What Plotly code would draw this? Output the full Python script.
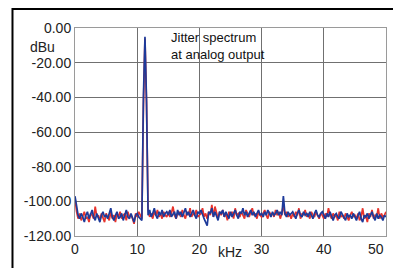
import plotly.graph_objects as go

# Frequency bins (kHz), 0.25 kHz spacing
freq_khz = [i * 0.25 for i in range(201)]

blue_dbu = [
    -97, -104, -108, -110, -107, -109, -112, -108, -106, -110, -108, -105, -109, -111, -107, -109, -112, -108, -106, -109,
    -108, -110, -107, -104, -109, -111, -108, -106, -110, -109, -107, -111, -108, -105, -109, -110, -107, -109, -112, -108,
    -107, -109, -110, -111, -40, -5, -42, -108, -105, -109, -107, -104, -108, -110, -106, -108, -105, -109, -107, -106,
    -108, -105, -109, -107, -106, -110, -105, -108, -106, -109, -107, -104, -108, -106, -109, -107, -105, -108, -110, -106,
    -107, -105, -108, -110, -112, -114, -106, -107, -104, -109, -106, -108, -111, -106, -107, -105, -109, -106, -108, -110,
    -106, -109, -107, -105, -108, -110, -106, -107, -104, -108, -106, -109, -107, -105, -108, -106, -109, -107, -105, -108,
    -107, -109, -106, -108, -105, -107, -109, -106, -108, -107, -105, -108, -106, -108, -97, -107, -109, -106, -108, -107,
    -106, -108, -110, -107, -105, -108, -109, -106, -108, -107, -109, -106, -108, -110, -107, -105, -108, -109, -107, -106,
    -108, -110, -107, -109, -106, -108, -111, -108, -107, -109, -110, -106, -108, -109, -111, -107, -109, -108, -110, -107,
    -109, -111, -108, -106, -110, -112, -108, -109, -107, -110, -108, -106, -109, -111, -107, -110, -108, -109, -111, -108,
    -109,
]

red_dbu = [
    -98, -106, -110, -107, -111, -108, -106, -110, -109, -112, -107, -108, -110, -103, -109, -108, -111, -107, -110, -112,
    -107, -109, -111, -106, -110, -108, -112, -107, -109, -106, -110, -108, -107, -111, -106, -109, -108, -110, -113, -107,
    -109, -106, -108, -110, -45, -6, -44, -105, -109, -107, -110, -106, -108, -105, -109, -107, -110, -106, -108, -109,
    -106, -109, -107, -103, -108, -110, -107, -106, -109, -105, -108, -110, -106, -108, -104, -109, -107, -108, -105, -109,
    -108, -107, -104, -109, -107, -110, -106, -108, -102, -109, -103, -107, -110, -106, -108, -105, -109, -107, -111, -106,
    -108, -106, -110, -104, -108, -107, -109, -106, -108, -110, -105, -107, -109, -106, -104, -108, -107, -110, -106, -108,
    -109, -107, -105, -108, -110, -106, -108, -107, -109, -105, -108, -106, -110, -107, -102, -108, -106, -109, -107, -110,
    -107, -109, -106, -108, -104, -110, -107, -108, -105, -109, -107, -110, -106, -108, -109, -106, -108, -110, -107, -108,
    -110, -107, -109, -104, -108, -110, -107, -109, -108, -111, -106, -109, -108, -110, -107, -109, -111, -108, -106, -109,
    -108, -110, -107, -111, -109, -104, -110, -108, -112, -107, -109, -105, -110, -108, -109, -104, -110, -107, -109, -108,
    -106,
]

x_ticks = [0, 10, 20, 30, 40]
x_tick_labels = ["0", "10", "20", "30", "40"]
x_last_tick = 50
y_ticks = [0, -20, -40, -60, -80, -100, -120]
y_tick_labels = ["0.00", "-20.00", "-40.00", "-60.00", "-80.00", "-100.00", "-120.00"]

fig = go.Figure()
fig.add_trace(go.Scatter(x=freq_khz, y=red_dbu, mode="lines",
                         line=dict(color="#e8342c", width=1.7), showlegend=False))
fig.add_trace(go.Scatter(x=freq_khz, y=blue_dbu, mode="lines",
                         line=dict(color="#1d3a9a", width=1.7), showlegend=False))

FAM = "Liberation Sans, Arial, sans-serif"
tickfont = dict(family=FAM, size=14, color="#222222")
font = dict(family=FAM, size=13, color="#222222")

fig.update_layout(
    width=393, height=268,
    margin=dict(l=75, r=7, t=28, b=32),
    paper_bgcolor="white", plot_bgcolor="white",
    font=font,
    xaxis=dict(range=[0, 50], tickvals=x_ticks, ticktext=x_tick_labels,
               showgrid=True, gridcolor="#707070", gridwidth=1,
               showline=True, linecolor="#9a9a9a", linewidth=1, mirror=True,
               zeroline=False, ticks="", tickfont=tickfont, automargin=False),
    yaxis=dict(range=[-120, 0], tickvals=y_ticks, ticktext=y_tick_labels,
               showgrid=True, gridcolor="#707070", gridwidth=1,
               showline=True, linecolor="#9a9a9a", linewidth=1, mirror=True,
               zeroline=False, ticks="", tickfont=tickfont, automargin=False),
    shapes=[dict(type="rect", xref="paper", yref="paper",
                 x0=-0.201, x1=1.3, y0=-0.5, y1=1.0915,
                 line=dict(color="black", width=2), layer="below")],
    annotations=[
        dict(text=str(x_last_tick), xref="x", yref="paper", x=x_last_tick, y=-0.0645,
             showarrow=False, font=tickfont, xanchor="right", yanchor="middle"),
        dict(text="dBu", xref="paper", yref="paper", x=-0.105, y=0.907,
             showarrow=False, font=tickfont, xanchor="center", yanchor="middle"),
        dict(text="Jitter spectrum<br>at analog output", xref="paper", yref="paper",
             x=0.303, y=1.0, showarrow=False, xanchor="left", yanchor="top",
             align="left", font=dict(family=FAM, size=13, color="#111111")),
        dict(text="kHz", xref="paper", yref="paper", x=0.498, y=-0.075,
             showarrow=False, font=tickfont, xanchor="center", yanchor="middle"),
    ],
)

fig.write_html("out.html", config={"displayModeBar": False},
               post_script="document.body.style.margin='0';document.body.style.overflow='hidden';")
